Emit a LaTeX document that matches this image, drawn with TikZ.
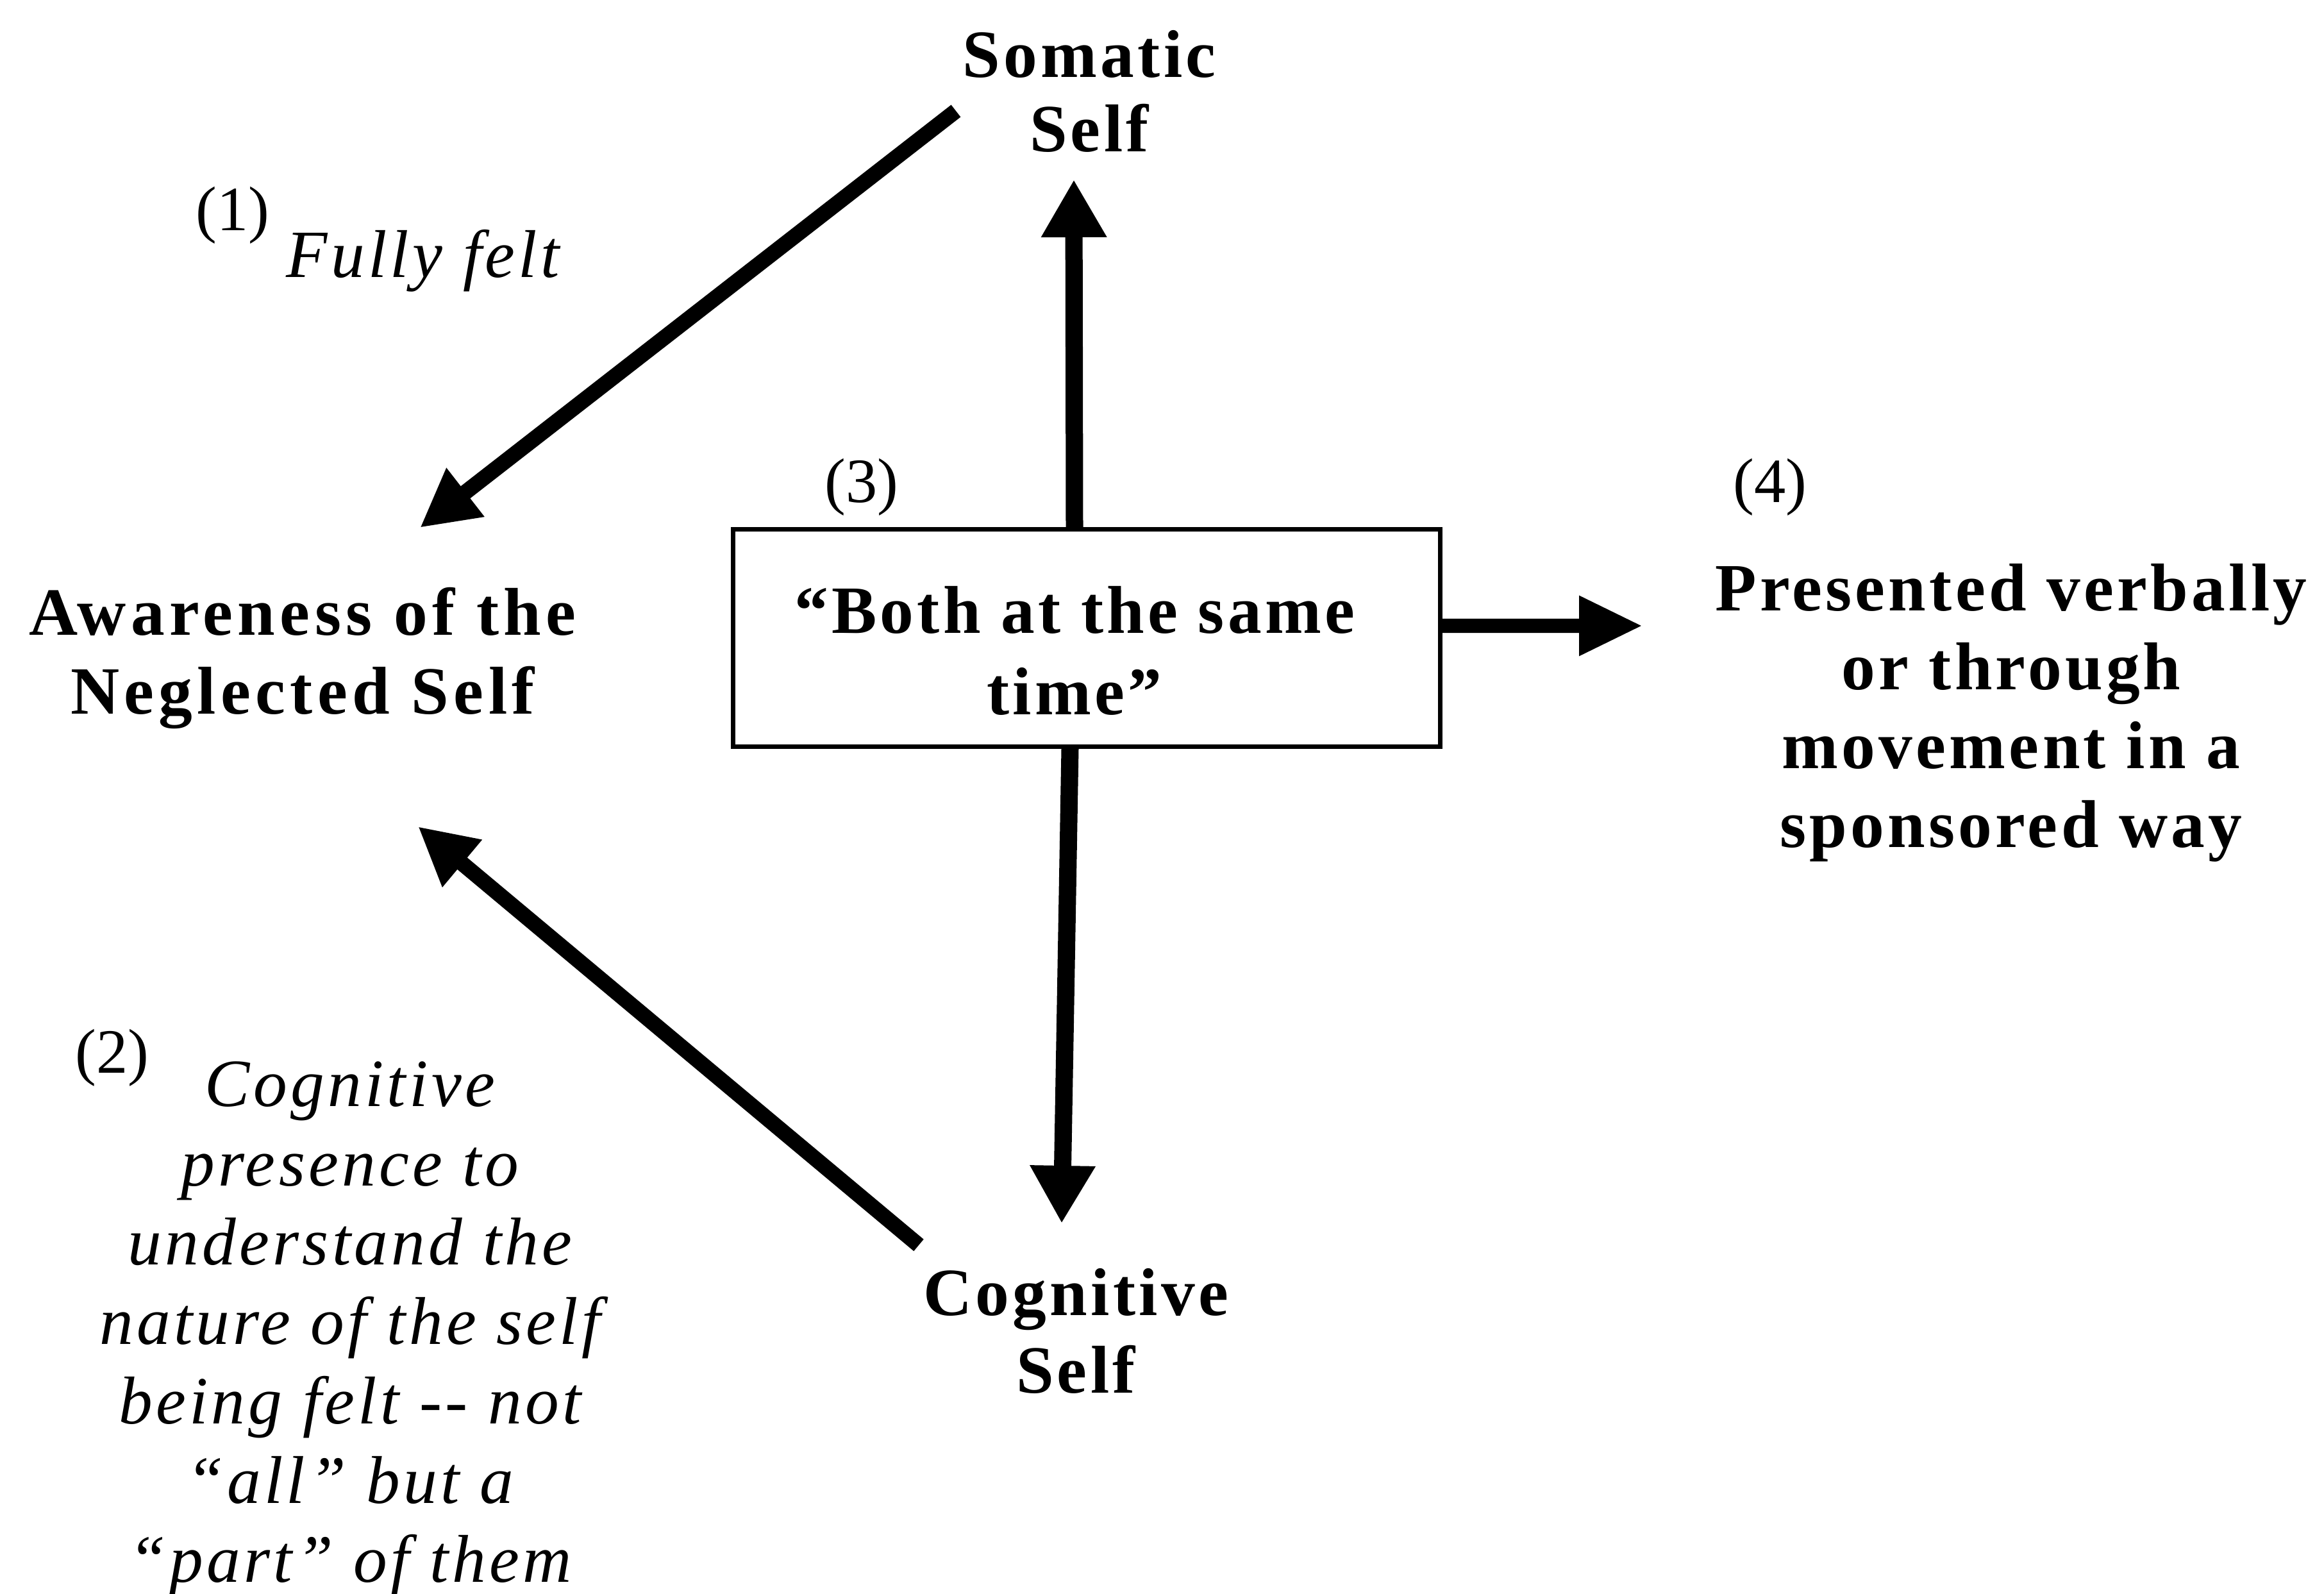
\documentclass[tikz,border=0pt]{standalone}
\usepackage{fontspec}
\setmainfont{Liberation Serif}
\newfontfamily\spacedserif[LetterSpace=5]{Liberation Serif}
\newfontfamily\widerserif[LetterSpace=7]{Liberation Serif}
\usetikzlibrary{arrows.meta}
\newcommand\boldlabfont[1]{\spacedserif\bfseries\fontsize{30}{#1}\selectfont}
\begin{document}
\begin{tikzpicture}[
  boldlab/.style={font=\boldlabfont{35}, align=center, inner sep=0pt},
  itallab/.style={font=\spacedserif\itshape\fontsize{30}{35.2}\selectfont, align=center, inner sep=0pt},
  numlab/.style={font=\fontsize{28}{32}\selectfont, inner sep=0pt, anchor=base},
  thickarrow/.style={line width=0.27cm, -{Triangle[length=0.9cm,width=0.96cm]}},
  diagarrow/.style={line width=0.24cm, -{Triangle[length=0.9cm,width=0.9cm]}},
  rightarrow/.style={line width=0.22cm, -{Triangle[length=0.99cm,width=0.88cm]}},
  framebox/.style={draw, line width=0.07cm, minimum width=11.03cm, minimum height=3.39cm, inner sep=0pt}
]
\path[use as bounding box] (0,0) rectangle (36.25,-24.86);

% main labels
\node[boldlab, font=\boldlabfont{33}] (somatic) at (16.99,-1.42) {Somatic\\Self};
\node[boldlab, font=\widerserif\bfseries\fontsize{30}{35}\selectfont] (aware) at (4.72,-10.27) {Awareness of the\\Neglected Self};
\node[framebox] (box) at (16.95,-9.95) {};
\node[boldlab, font=\boldlabfont{36}] (boxtext) at (16.76,-10.15) {“Both at the same\\time”};
\node[boldlab] (present) at (31.37,-11.12) {Presented verbally\\or through\\movement in a\\sponsored way};
\node[boldlab, font=\boldlabfont{34.6}] (cognitive) at (16.78,-20.76) {Cognitive\\Self};

% numbered labels
\node[numlab] (n1) at (3.63,-3.60) {(1)};
\node[inner sep=0pt, anchor=base west, font=\spacedserif\itshape\fontsize{30}{35}\selectfont] (felt) at (4.46,-4.33) {Fully felt};
\node[numlab] (n2) at (1.75,-16.73) {(2)};
\node[itallab] (cogtext) at (5.46,-20.73) {Cognitive\\presence to\\understand the\\nature of the self\\being felt -{}- not\\“all” but a\\“part” of them};
\node[numlab] (n3) at (13.44,-7.83) {(3)};
\node[numlab] (n4) at (27.61,-7.83) {(4)};

% arrow end points
\coordinate (a1s) at (14.91,-1.73);
\coordinate (a1e) at (6.55,-8.23);
\coordinate (a2s) at (14.33,-19.42);
\coordinate (a2e) at (6.52,-12.89);
\coordinate (upend) at (16.75,-2.80);
\coordinate (downend) at (16.56,-19.08);
\coordinate (rightend) at (25.62,-9.76);

% connectors
\draw[diagarrow] (a1s) -- (a1e);
\draw[diagarrow] (a2s) -- (a2e);
\draw[thickarrow] ([xshift=-0.19cm]box.north) -- (upend);
\draw[thickarrow] ([xshift=-0.26cm]box.south) -- (downend);
\draw[rightarrow] ([yshift=0.19cm]box.east) -- (rightend);
\end{tikzpicture}
\end{document}
